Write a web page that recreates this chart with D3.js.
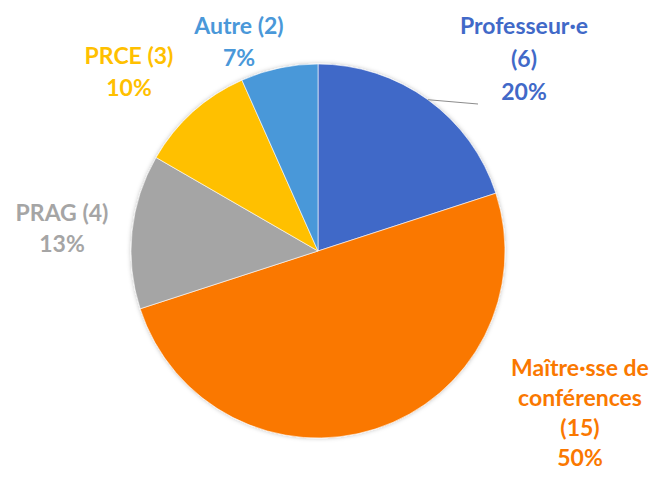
<!DOCTYPE html>
<html>
<head>
<meta charset="utf-8">
<script src="https://cdn.jsdelivr.net/npm/d3@7"></script>
<style>
  body { margin: 0; background: #fff; }
  text { font-family: Lato, "Open Sans", sans-serif; font-weight: bold; }
</style>
</head>
<body>
<script>
// categories, counts and colours (order = clockwise from 12 o'clock)
const categories = ["Professeur·e", "Maître·sse de conférences", "PRAG", "PRCE", "Autre"];
const counts = [6, 15, 4, 3, 2];
const colors = ["#4169C8", "#FA7800", "#A5A5A5", "#FFC000", "#4A98D9"];

// label lines as printed on the chart
const labelLines = [
  ["Professeur·e", "(6)", "20%"],
  ["Maître·sse de", "conférences", "(15)", "50%"],
  ["PRAG (4)", "13%"],
  ["PRCE (3)", "10%"],
  ["Autre (2)", "7%"]
];

const W = 659, H = 479;
const cx = 318, cy = 251, R = 187;

const svg = d3.select("body").append("svg").attr("width", W).attr("height", H);

const defs = svg.append("defs");
const f = defs.append("filter").attr("id", "sh").attr("x", "-10%").attr("y", "-10%").attr("width", "120%").attr("height", "120%");
f.append("feDropShadow").attr("dx", 0).attr("dy", 0).attr("stdDeviation", 2).attr("flood-color", "#000").attr("flood-opacity", 0.25);

const data = categories.map((c, i) => ({ cat: c, value: counts[i], color: colors[i], lines: labelLines[i] }));

const pie = d3.pie().sort(null).value(d => d.value);
const arc = d3.arc().innerRadius(0).outerRadius(R);
const arcs = pie(data);

const g = svg.append("g").attr("transform", `translate(${cx},${cy})`);
g.append("g").attr("filter", "url(#sh)")
  .selectAll("path").data(arcs).join("path")
  .attr("d", arc)
  .attr("fill", d => d.data.color)
  .attr("stroke", "#fff")
  .attr("stroke-width", 0.6);

// label positions (centre x, first baseline)
const labelPos = [[524, 34], [580, 376], [62, 221], [129, 64], [239, 34]];
const lineGap = [33, 30, 31, 32, 32];

// leader line for Professeur·e label
const a0 = arcs[0];
const mid = (a0.startAngle + a0.endAngle) / 2;
svg.append("line")
  .attr("x1", cx + Math.sin(mid) * R).attr("y1", cy - Math.cos(mid) * R)
  .attr("x2", 478).attr("y2", 104)
  .attr("stroke", "#8c8c8c").attr("stroke-width", 1);

const labels = svg.selectAll("g.lab").data(data).join("g").attr("class", "lab");
labels.each(function(d, i) {
  const gl = d3.select(this);
  d.lines.forEach((t, k) => {
    gl.append("text")
      .attr("x", labelPos[i][0])
      .attr("y", labelPos[i][1] + k * lineGap[i])
      .attr("text-anchor", "middle")
      .attr("font-size", 23)
      .attr("fill", d.color)
      .text(t);
  });
});
</script>
</body>
</html>
